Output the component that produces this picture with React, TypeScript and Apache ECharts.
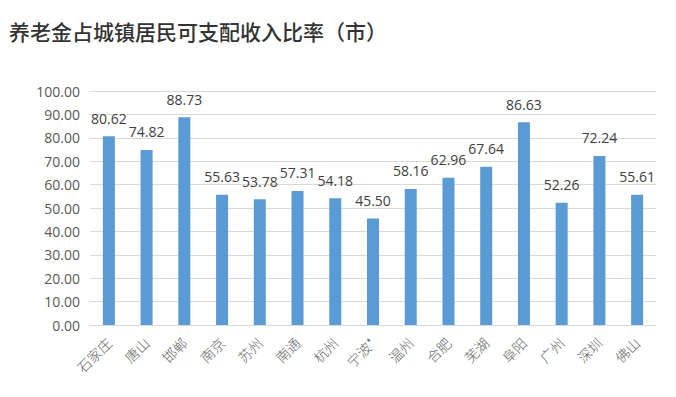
import React, { useEffect, useRef } from "react";
import * as echarts from "echarts";

const titleText = "养老金占城镇居民可支配收入比率（市）";
const categories = ["石家庄", "唐山", "邯郸", "南京", "苏州", "南通", "杭州", "宁波*", "温州", "合肥", "芜湖", "阜阳", "广州", "深圳", "佛山"];
const values = [80.62, 74.82, 88.73, 55.63, 53.78, 57.31, 54.18, 45.5, 58.16, 62.96, 67.64, 86.63, 52.26, 72.24, 55.61];

export default function App() {
  const ref = useRef<HTMLDivElement>(null);
  useEffect(() => {
    const chart = echarts.init(ref.current!, null, { renderer: "svg" });
    chart.setOption({
      animation: false,
      backgroundColor: "#ffffff",
      title: {
        text: titleText,
        left: 4,
        top: 15,
        textStyle: { fontFamily: "Noto Sans CJK SC", fontSize: 21, fontWeight: 500, color: "#333333" },
      },
      grid: { left: 90, right: 20, top: 91, bottom: 72, containLabel: false },
      xAxis: {
        type: "category",
        data: categories,
        axisLine: { lineStyle: { color: "#d9d9d9" } },
        axisTick: { show: false },
        axisLabel: {
          rotate: 45,
          interval: 0,
          margin: 15,
          color: "#666666",
          fontSize: 14,
          fontFamily: "Noto Sans CJK SC",
          fontWeight: 300,
        },
      },
      yAxis: {
        type: "value",
        min: 0,
        max: 100,
        interval: 10,
        axisLine: { show: false },
        axisTick: { show: false },
        splitLine: { lineStyle: { color: "#d9d9d9" } },
        axisLabel: {
          margin: 10,
          color: "#595959",
          fontSize: 14,
          fontFamily: "Open Sans",
          formatter: (v: number) => v.toFixed(2),
        },
      },
      series: [
        {
          type: "bar",
          data: values,
          barWidth: 12,
          itemStyle: { color: "#5b9bd5" },
          label: {
            show: true,
            position: "top",
            distance: 11,
            color: "#404040",
            fontSize: 14,
            fontFamily: "Open Sans",
            formatter: (p: any) => Number(p.value).toFixed(2),
          },
        },
      ],
    });
    return () => chart.dispose();
  }, []);
  return <div ref={ref} style={{ width: 676, height: 397, position: "absolute", left: 0, top: 0 }} />;
}
